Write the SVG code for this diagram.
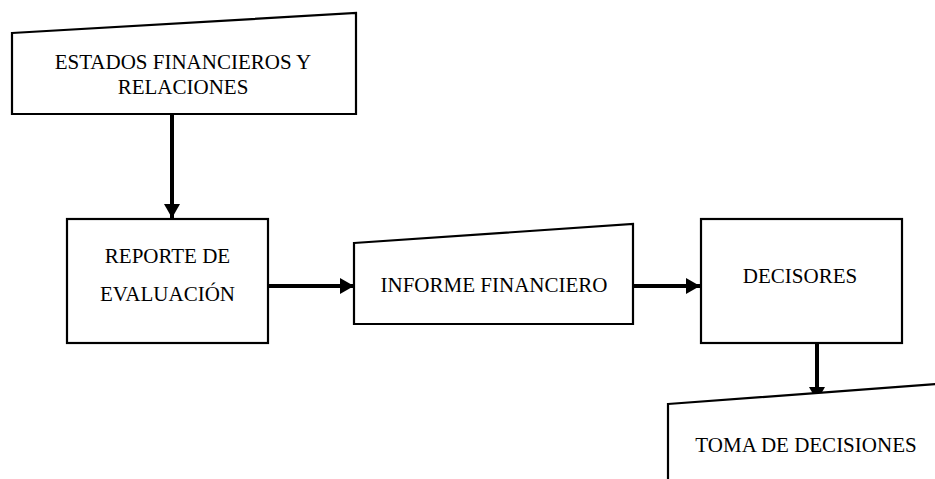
<svg xmlns="http://www.w3.org/2000/svg" width="935" height="479" viewBox="0 0 935 479">
<style>
.box{fill:#fff;stroke:#000;stroke-width:2.2}
.lbl{font-family:"Liberation Serif","Times New Roman",serif;font-size:21px;fill:#000;text-anchor:middle}
.conn{stroke:#000;stroke-width:4;fill:none}
</style>
<defs>
<marker id="ah" markerUnits="userSpaceOnUse" markerWidth="16" markerHeight="16" viewBox="0 0 14 16" refX="14" refY="8" orient="auto">
<path d="M0,0 L14,8 L0,16 Z" fill="#000"/>
</marker>
</defs>
<rect width="935" height="479" fill="#fff"/>
<g id="connectors">
<line class="conn" x1="172" y1="114" x2="172" y2="218" marker-end="url(#ah)"/>
<line class="conn" x1="268" y1="286" x2="354" y2="286" marker-end="url(#ah)"/>
<line class="conn" x1="633" y1="286" x2="700" y2="286" marker-end="url(#ah)"/>
<line class="conn" x1="817" y1="343" x2="817" y2="401" marker-end="url(#ah)"/>
</g>
<g id="estados">
<polygon class="box" points="12,33 356,13 356,114 12,114"/>
<text class="lbl" x="183" y="69">ESTADOS FINANCIEROS Y</text>
<text class="lbl" x="183" y="94">RELACIONES</text>
</g>
<g id="reporte">
<rect class="box" x="67" y="219" width="201" height="124"/>
<text class="lbl" x="167.5" y="263">REPORTE DE</text>
<text class="lbl" x="167.5" y="301">EVALUACIÓN</text>
</g>
<g id="informe">
<polygon class="box" points="354,243 633,224 633,324 354,324"/>
<text class="lbl" x="494" y="292">INFORME FINANCIERO</text>
</g>
<g id="decisores">
<rect class="box" x="701" y="219" width="201" height="124"/>
<text class="lbl" x="800" y="283">DECISORES</text>
</g>
<g id="toma">
<polygon class="box" points="668,404 965,382 965,500 668,500"/>
<text class="lbl" x="806" y="452">TOMA DE DECISIONES</text>
</g>
</svg>
